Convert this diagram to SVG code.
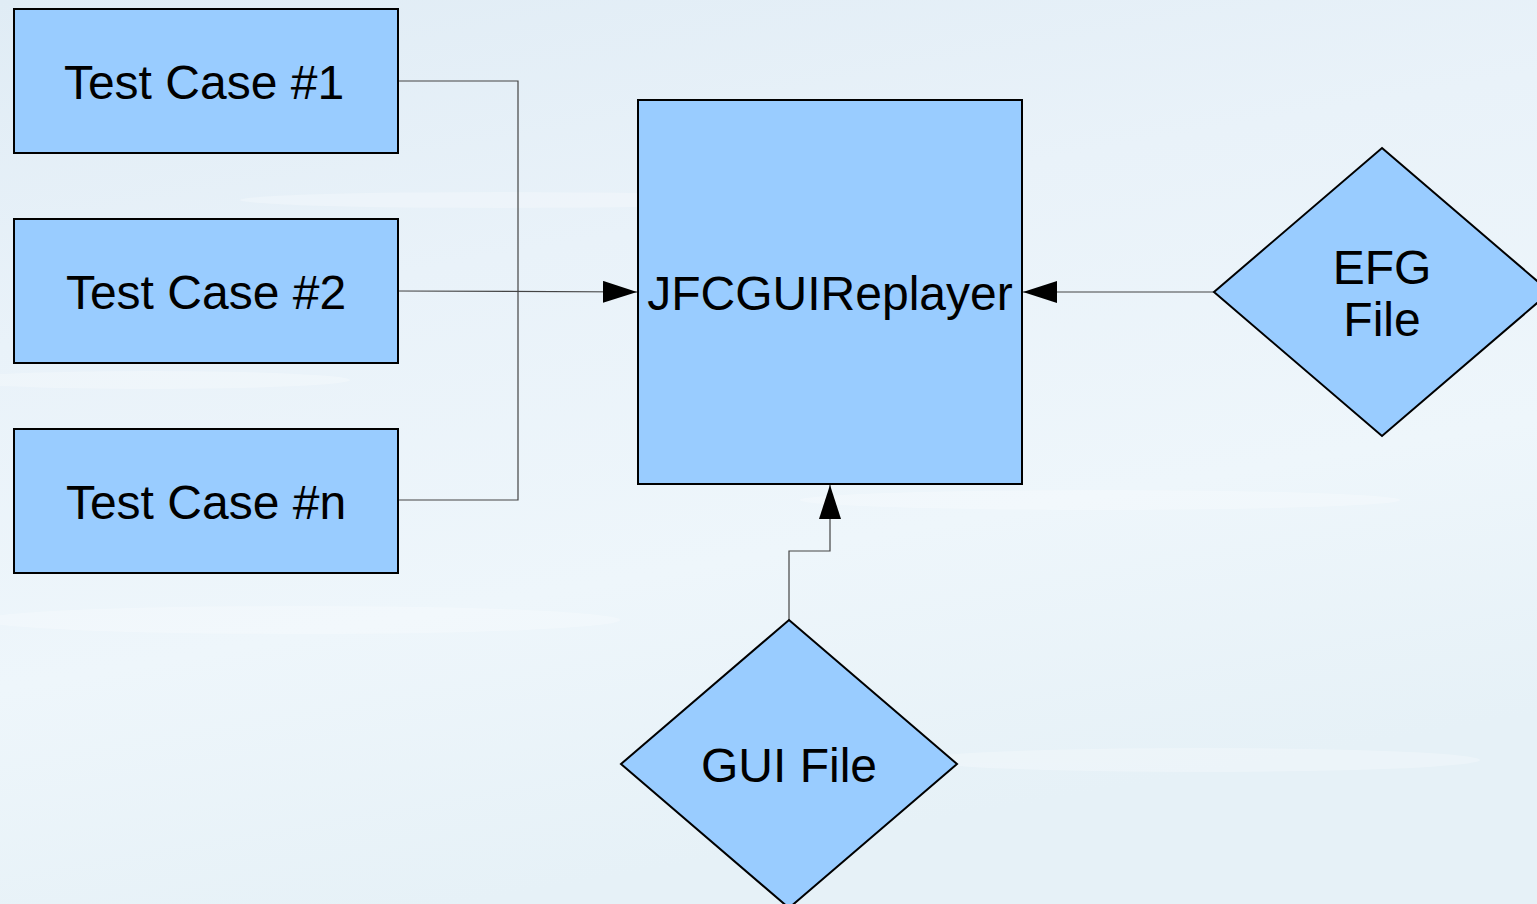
<svg xmlns="http://www.w3.org/2000/svg" width="1537" height="904" viewBox="0 0 1537 904">
<style>
.node{fill:#99ccff;stroke:#000;stroke-width:2}
.lbl{font-family:"Liberation Sans",Arial,sans-serif;font-size:48px;fill:#000;text-anchor:middle}
.con{fill:none;stroke:#444;stroke-width:1.2}
</style>
<defs>
<linearGradient id="bg" x1="0" y1="0" x2="0.3" y2="1">
<stop offset="0" stop-color="#e0ecf5"/>
<stop offset="0.35" stop-color="#e9f2f9"/>
<stop offset="0.7" stop-color="#eef6fb"/>
<stop offset="1" stop-color="#e6f1f7"/>
</linearGradient>
<marker id="ah" viewBox="0 0 34 22" refX="34" refY="11" markerWidth="34" markerHeight="22" markerUnits="userSpaceOnUse" orient="auto">
<path d="M0,0 L34,11 L0,22 Z" fill="#000"/>
</marker>
</defs>
<rect width="1537" height="904" fill="url(#bg)"/>
<g opacity="0.25" fill="#ffffff">
<ellipse cx="300" cy="620" rx="320" ry="14"/>
<ellipse cx="1100" cy="500" rx="300" ry="10"/>
<ellipse cx="500" cy="200" rx="260" ry="8"/>
<ellipse cx="1200" cy="760" rx="280" ry="12"/>
<ellipse cx="150" cy="380" rx="200" ry="9"/>
</g>
<g id="connectors">
<polyline class="con" points="398,81 518,81 518,500 398,500"/>
<line class="con" x1="398" y1="291" x2="637" y2="292" marker-end="url(#ah)"/>
<line class="con" x1="1214" y1="292" x2="1023" y2="292" marker-end="url(#ah)"/>
<polyline class="con" points="789,620 789,551 830,551 830,485" marker-end="url(#ah)"/>
</g>
<g id="tc1"><rect class="node" x="14" y="9" width="384" height="144"/><text class="lbl" x="204" y="99">Test Case #1</text></g>
<g id="tc2"><rect class="node" x="14" y="219" width="384" height="144"/><text class="lbl" x="206" y="309">Test Case #2</text></g>
<g id="tcn"><rect class="node" x="14" y="429" width="384" height="144"/><text class="lbl" x="206" y="519">Test Case #n</text></g>
<g id="replayer"><rect class="node" x="638" y="100" width="384" height="384"/><text class="lbl" x="830" y="310">JFCGUIReplayer</text></g>
<g id="efg"><polygon class="node" points="1382,148 1550,292 1382,436 1214,292"/><text class="lbl" x="1382" y="284">EFG</text><text class="lbl" x="1382" y="336">File</text></g>
<g id="gui"><polygon class="node" points="789,620 957,764 789,908 621,764"/><text class="lbl" x="789" y="782">GUI File</text></g>
</svg>
